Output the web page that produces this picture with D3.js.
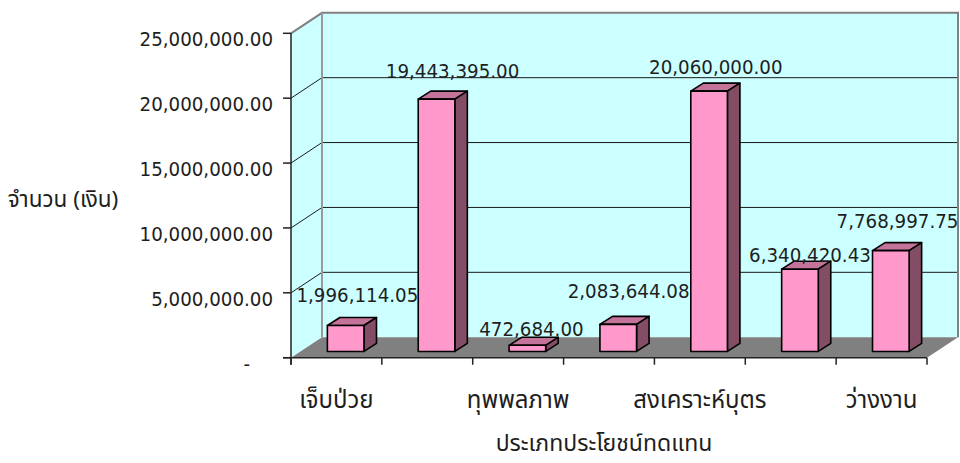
<!DOCTYPE html>
<html>
<head>
<meta charset="utf-8">
<script src="https://cdn.jsdelivr.net/npm/d3@7"></script>
<style>
  html, body { margin: 0; padding: 0; background: #ffffff; }
  svg { display: block; }
  .num { font-family: "DejaVu Sans Condensed", "DejaVu Sans", sans-serif; font-stretch: condensed; font-size: 20.3px; fill: #1e1e1e; }
  .thai { font-family: "Noto Sans Thai", "Noto Sans Thai Looped", "Noto Sans", sans-serif; fill: #1e1e1e; }
</style>
</head>
<body>
<svg id="chart" width="960" height="463"></svg>
<script>
// Benefit types and amounts paid (baht)
const categories = ["เจ็บป่วย", "คลอดบุตร", "ทุพพลภาพ", "ตาย", "สงเคราะห์บุตร", "ชราภาพ", "ว่างงาน"];
const amounts = [1996114.05, 19443395.00, 472684.00, 2083644.08, 20060000.00, 6340420.43, 7768997.75];
const yTicks = [0, 5000000, 10000000, 15000000, 20000000, 25000000];
const yTitle = "จำนวน (เงิน)";
const xTitle = "ประเภทประโยชน์ทดแทน";

const svg = d3.select("#chart");

// Front plane of the 3D box
const x0 = 291, x1 = 927, yBase = 357.7, yTop = 33.3;
// Depth of the floor / walls and of each bar
const D = { x: 31, y: -20.5 };
const d = { x: 12.5, y: -8 };
// Bars sit half way into the depth of the floor
const off = { x: (D.x - d.x) / 2, y: (D.y - d.y) / 2 };

const x = d3.scaleBand().domain(categories).range([x0, x1]).paddingInner(0.597).paddingOuter(0.2985);
const y = d3.scaleLinear().domain([0, 25000000]).range([yBase, yTop]);
const fmt = d3.format(",.2f");

const pts = a => a.map(p => p.join(",")).join(" ");

// Walls
const wall = svg.append("g");
// left side wall
wall.append("polygon")
  .attr("points", pts([[x0, yTop], [x0 + D.x, yTop + D.y], [x0 + D.x, yBase + D.y], [x0, yBase]]))
  .attr("fill", "#ccffff");
// back wall
wall.append("polygon")
  .attr("points", pts([[x0 + D.x, yTop + D.y], [x1 + D.x, yTop + D.y], [x1 + D.x, yBase + D.y], [x0 + D.x, yBase + D.y]]))
  .attr("fill", "#ccffff");
// floor
wall.append("polygon")
  .attr("points", pts([[x0, yBase], [x1, yBase], [x1 + D.x, yBase + D.y], [x0 + D.x, yBase + D.y]]))
  .attr("fill", "#808080");

// Gridlines on both walls
const grid = svg.append("g");
yTicks.filter(v => v > 0 && v < 25000000).forEach(v => {
  grid.append("line")
    .attr("x1", x0 + D.x).attr("x2", x1 + D.x)
    .attr("y1", y(v) + D.y).attr("y2", y(v) + D.y)
    .attr("stroke", "#1a1a1a").attr("stroke-width", 1);
  grid.append("line")
    .attr("x1", x0).attr("x2", x0 + D.x)
    .attr("y1", y(v)).attr("y2", y(v) + D.y)
    .attr("stroke", "#1a1a1a").attr("stroke-width", 1);
});
// Wall borders
grid.append("polyline")
  .attr("points", pts([[x0, yTop], [x0 + D.x, yTop + D.y], [x1 + D.x, yTop + D.y], [x1 + D.x, yBase + D.y]]))
  .attr("fill", "none").attr("stroke", "#808080").attr("stroke-width", 2);
grid.append("line")
  .attr("x1", x0 + D.x).attr("x2", x0 + D.x)
  .attr("y1", yTop + D.y).attr("y2", yBase + D.y)
  .attr("stroke", "#999").attr("stroke-width", 2);

// Bars: front, top and right side faces
const bars = svg.append("g").attr("stroke", "#000").attr("stroke-width", 1.6).attr("stroke-linejoin", "round");
categories.forEach((c, i) => {
  const v = amounts[i];
  const L = x(c) + off.x, R = L + x.bandwidth();
  const B = yBase + off.y, T = y(v) + off.y;
  const g = bars.append("g");
  g.append("polygon")
    .attr("points", pts([[L, T], [L + d.x, T + d.y], [R + d.x, T + d.y], [R, T]]))
    .attr("fill", "#c4739b");
  g.append("polygon")
    .attr("points", pts([[R, T], [R + d.x, T + d.y], [R + d.x, B + d.y], [R, B]]))
    .attr("fill", "#834d66");
  g.append("rect")
    .attr("x", L).attr("y", T).attr("width", R - L).attr("height", B - T)
    .attr("fill", "#ff99cc");
});

// Value labels, each nudged from its bar's front-top edge
const labelNudge = [[11.7, -23.3], [16, -20.9], [4, -9.4], [10.4, -26.8], [6.7, -16.9], [10, -7.5], [6.7, -23]];
const labels = svg.append("g");
categories.forEach((c, i) => {
  const v = amounts[i];
  const cx = x(c) + off.x + x.bandwidth() / 2;
  const top = y(v) + off.y;
  labels.append("text").attr("class", "num")
    .attr("x", cx + labelNudge[i][0]).attr("y", top + labelNudge[i][1])
    .attr("text-anchor", "middle")
    .text(fmt(v));
});

// Value axis on the front-left edge
const yAxis = svg.append("g");
yAxis.append("line").attr("x1", x0).attr("x2", x0).attr("y1", yTop).attr("y2", yBase + 7)
  .attr("stroke", "#222").attr("stroke-width", 1.5);
yTicks.forEach(v => {
  yAxis.append("line").attr("x1", x0 - 8).attr("x2", x0).attr("y1", y(v)).attr("y2", y(v))
    .attr("stroke", "#222").attr("stroke-width", 1.5);
  yAxis.append("text").attr("class", "num")
    .attr("x", v === 0 ? 250 : 273).attr("y", y(v) + 13)
    .attr("text-anchor", "end")
    .text(v === 0 ? "-" : fmt(v));
});

// Category axis along the front of the floor
const xAxis = svg.append("g");
xAxis.append("line").attr("x1", x0 - 8).attr("x2", x1).attr("y1", yBase).attr("y2", yBase)
  .attr("stroke", "#222").attr("stroke-width", 1.5);
const step = x.step();
d3.range(categories.length + 1).forEach(k => {
  const tx = x0 + k * step;
  xAxis.append("line").attr("x1", tx).attr("x2", tx).attr("y1", yBase).attr("y2", yBase + 7)
    .attr("stroke", "#222").attr("stroke-width", 1.5);
});
categories.forEach((c, i) => {
  if (i % 2 !== 0) return;
  xAxis.append("text").attr("class", "thai")
    .attr("x", x(c) + x.bandwidth() / 2).attr("y", 408)
    .attr("text-anchor", "middle").attr("font-size", 24)
    .text(c);
});

// Axis titles
svg.append("text").attr("class", "thai")
  .attr("x", 63).attr("y", 207).attr("text-anchor", "middle").attr("font-size", 22.5)
  .text(yTitle);
svg.append("text").attr("class", "thai")
  .attr("x", 604).attr("y", 451).attr("text-anchor", "middle").attr("font-size", 23)
  .text(xTitle);
</script>
</body>
</html>
